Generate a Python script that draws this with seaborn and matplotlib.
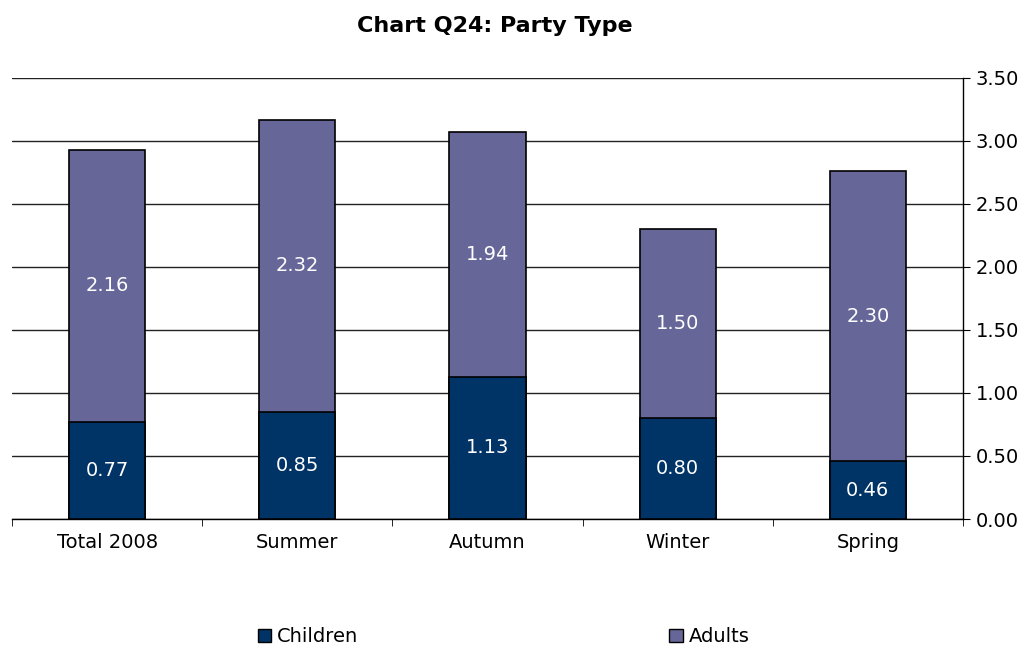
import matplotlib
matplotlib.use("Agg")
import matplotlib.pyplot as plt
import seaborn as sns
import pandas as pd
from matplotlib.patches import Patch

categories = ["Total 2008", "Summer", "Autumn", "Winter", "Spring"]
children = [0.77, 0.85, 1.13, 0.80, 0.46]
adults = [2.16, 2.32, 1.94, 1.50, 2.30]
yticks = [0.0, 0.5, 1.0, 1.5, 2.0, 2.5, 3.0, 3.5]

c_children = "#003366"
c_adults = "#666699"

sns.set_style("white")
plt.rcParams["font.family"] = ["DejaVu Sans"]
plt.rcParams["text.color"] = "black"
plt.rcParams["xtick.color"] = "black"
plt.rcParams["ytick.color"] = "black"

df = pd.DataFrame({"cat": categories, "children": children, "adults": adults})
df["total"] = df["children"] + df["adults"]

fig = plt.figure(figsize=(10.28, 6.53), dpi=100)
ax = fig.add_axes([0.0117, 0.2052, 0.925, 0.6754])

sns.barplot(data=df, x="cat", y="total", color=c_adults, width=0.4,
            edgecolor="black", linewidth=1.2, saturation=1, ax=ax, zorder=3)
sns.barplot(data=df, x="cat", y="children", color=c_children, width=0.4,
            edgecolor="black", linewidth=1.2, saturation=1, ax=ax, zorder=4)

for i, (c, a) in enumerate(zip(children, adults)):
    ax.text(i, c / 2, f"{c:.2f}", ha="center", va="center", color="white", fontsize=14, zorder=5)
    ax.text(i, c + a / 2, f"{a:.2f}", ha="center", va="center", color="white", fontsize=14, zorder=5)

ax.set_ylim(0, 3.5)
ax.set_xlim(-0.5, 4.5)
ax.set_yticks(yticks)
ax.set_yticklabels([f"{v:.2f}" for v in yticks], fontsize=14)
ax.yaxis.tick_right()
ax.yaxis.grid(True, color="#222222", linewidth=1)
ax.set_axisbelow(True)
ax.tick_params(axis="y", direction="out", length=5, color="black", right=True, pad=4)

ax.set_xticks([i - 0.5 for i in range(6)], minor=True)
ax.set_xticks(range(5))
ax.set_xticklabels(categories, fontsize=14)
ax.tick_params(axis="x", which="major", length=0, pad=10)
ax.tick_params(axis="x", which="minor", direction="out", length=5, color="black", bottom=True)

ax.set_xlabel("")
ax.set_ylabel("")
for s in ["top", "left"]:
    ax.spines[s].set_visible(False)
ax.spines["right"].set_color("black")
ax.spines["bottom"].set_color("black")
ax.spines["right"].set_linewidth(1)
ax.spines["bottom"].set_linewidth(1)

fig.suptitle("Chart Q24: Party Type", fontsize=16, fontweight="bold", x=0.481, y=0.975)

handles = [Patch(facecolor=c_children, edgecolor="black", label="Children"),
           Patch(facecolor=c_adults, edgecolor="black", label="Adults")]
fig.legend(handles=handles, loc="center", bbox_to_anchor=(0.49, 0.025), ncol=2,
           frameon=False, fontsize=14, columnspacing=16, handlelength=0.7,
           handleheight=0.7, handletextpad=0.3)

fig.savefig("out.png", dpi=100)
